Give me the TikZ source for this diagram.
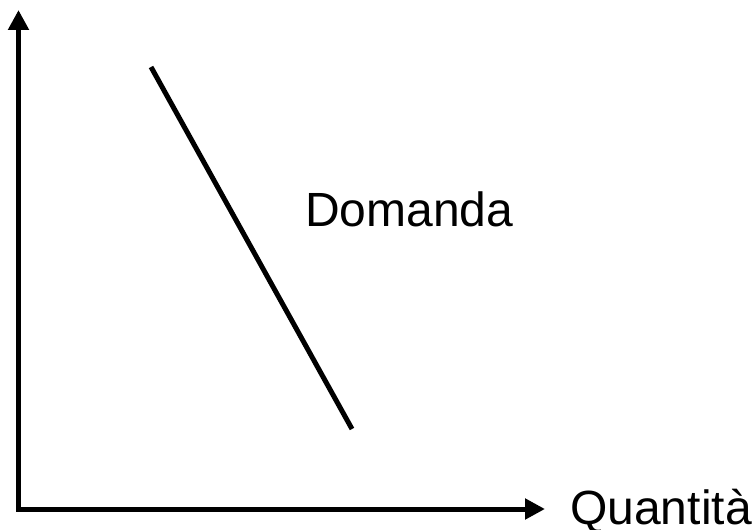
\documentclass[tikz,border=0pt]{standalone}
\usepackage{fontspec}
\setmainfont{Liberation Sans}
\usetikzlibrary{positioning,arrows.meta}

\begin{document}
\begin{tikzpicture}[
  x=0.75pt, y=-0.75pt,
  axis/.style={{Triangle[length=15pt,width=15pt]}-{Triangle[length=15pt,width=15pt]}, line width=3.75pt},
  curve/.style={line width=3.75pt},
  labeltext/.style={font=\fontsize{36pt}{40pt}\selectfont, inner sep=0pt, anchor=base west}
]
  \useasboundingbox (0,0) rectangle (755,530);
  \coordinate (origin) at (18.5,509);
  \coordinate (ytip) at (18.5,10);
  \coordinate (xtip) at (545,509);
  \coordinate (dtop) at (151,67);
  \coordinate (dbot) at (352,429);

  \draw[axis] (ytip) -- (origin) -- (xtip);
  \draw[curve] (dtop) -- (dbot);

  \node[labeltext] (domanda) at (305,227) {Domanda};
  \node[labeltext] (quantita) at (570,524) {Quantità};
\end{tikzpicture}
\end{document}
